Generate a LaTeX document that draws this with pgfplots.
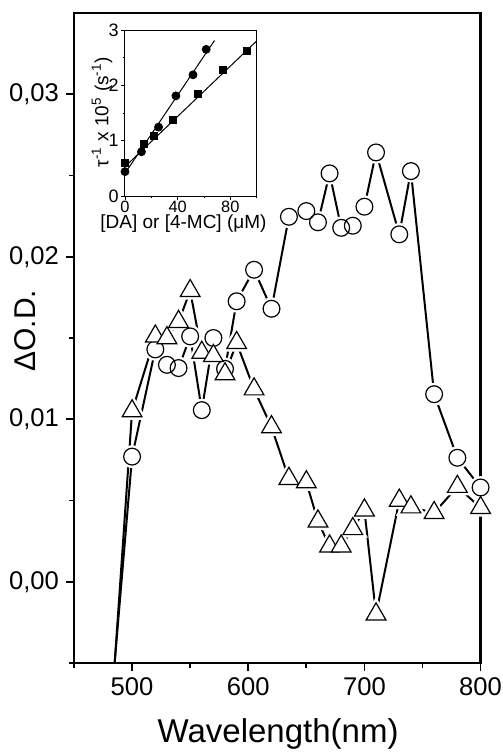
\documentclass[border=0pt]{standalone}
\usepackage{fontspec}
\setmainfont{Liberation Sans}
\usepackage{pgfplots}
\pgfplotsset{compat=1.18}

% transient spectra: circles and triangles
\pgfplotstableread{
x y
480 -0.0092
500 0.0077
520 0.0143
530 0.01335
540 0.01315
550 0.0151
560 0.01056
570 0.0150
580 0.0131
590 0.01726
605 0.0192
620 0.0168
635 0.02246
650 0.02281
660 0.02212
670 0.02513
680 0.02178
690 0.02191
700 0.02308
710 0.02642
730 0.02138
740 0.02527
760 0.01154
780 0.00763
800 0.0058
}\circdata
\pgfplotstableread{
x y
480 -0.0102
500 0.0105
520 0.0151
530 0.0150
540 0.0160
550 0.0179
560 0.0141
570 0.0139
580 0.01278
590 0.0147
605 0.01185
620 0.00952
635 0.00634
650 0.00613
660 0.00372
670 0.00218
680 0.00218
690 0.00325
700 0.0044
710 -0.0020
730 0.0050
740 0.00459
760 0.00424
780 0.00585
800 0.00455
}\tridata

\begin{document}
\begin{tikzpicture}
\begin{axis}[
  name=main,
  scale only axis, width=203.3pt, height=325pt,
  xmin=450, xmax=800, ymin=-0.005, ymax=0.035,
  xtick={500,600,700,800}, minor xtick={450,550,650,750},
  ytick={0,0.01,0.02,0.03}, minor ytick={-0.005,0.005,0.015,0.025},
  tick pos=left, tick align=outside,
  major tick length=4pt, minor tick length=2.5pt,
  axis line style={line width=1.1pt},
  every tick/.style={black, line width=0.9pt},
  scaled y ticks=false,
  /pgf/number format/assume math mode=true,
  yticklabel style={/pgf/number format/.cd, fixed, fixed zerofill, precision=2, use comma},
  tick label style={font=\fontsize{12.8}{14}\selectfont},
  xlabel={Wavelength(nm)}, ylabel={ΔO.D.},
  every axis x label/.style={at={(axis description cs:0.502,-0.109)}, anchor=center,
    font=\fontsize{16.5}{18}\selectfont},
  every axis y label/.style={at={(axis description cs:-0.1205,0.511)}, rotate=90, anchor=center,
    font=\fontsize{15}{18}\selectfont},
]
\addplot[black, line width=1pt] table[x=x,y=y] {\circdata};
\addplot[black, line width=1pt] table[x=x,y=y] {\tridata};
% white halos give the gaps round the symbols
\addplot[only marks, mark=*, mark size=4.2pt, draw=white, fill=white, line width=3pt] table[x=x,y=y] {\circdata};
\addplot[only marks, mark=triangle*, mark size=5.7pt, draw=white, fill=white, line width=3pt] table[x=x,y=y] {\tridata};
\addplot[only marks, mark=o, mark size=4.2pt, mark options={black, fill=white, line width=0.6pt}] table[x=x,y=y] {\circdata};
\addplot[only marks, mark=triangle*, mark size=5.7pt, mark options={black, fill=white, line width=0.6pt}] table[x=x,y=y] {\tridata};
\end{axis}

\begin{axis}[
  at={(25.5pt,233.5pt)}, anchor=south west,
  scale only axis, width=65.8pt, height=83pt,
  xmin=0, xmax=100, ymin=0, ymax=3,
  xtick={0,40,80}, minor xtick={20,60,100},
  ytick={0,1,2,3}, minor ytick={0.5,1.5,2.5},
  tick pos=left, tick align=outside,
  major tick length=2pt, minor tick length=1.2pt,
  axis line style={line width=0.5pt},
  every tick/.style={black, line width=0.4pt},
  /pgf/number format/assume math mode=true,
  xticklabel style={font=\fontsize{8.2}{9}\selectfont, inner sep=0.5pt},
  yticklabel style={font=\fontsize{9}{10}\selectfont, inner sep=1pt},
  xlabel={[DA] or [4-MC] (μM)},
  ylabel={τ\textsuperscript{-1} x 10\textsuperscript{5} (s\textsuperscript{-1})},
  every axis x label/.style={at={(axis description cs:0.444,-0.169)}, anchor=center,
    font=\fontsize{9.5}{11}\selectfont},
  every axis y label/.style={at={(axis description cs:-0.175,0.506)}, rotate=90, anchor=center,
    font=\fontsize{9.5}{11}\selectfont},
]
\addplot[black, line width=0.5pt] coordinates {(0,0.41) (68,2.81)};
\addplot[black, line width=0.5pt] coordinates {(0,0.53) (100,2.80)};
\addplot[only marks, mark=*, mark size=2pt, black] coordinates {
  (0,0.44) (12.5,0.80) (25.5,1.245) (38.7,1.81) (51.7,2.19) (61.7,2.65)};
\addplot[only marks, mark=square*, mark size=1.75pt, black] coordinates {
  (0,0.59) (14.5,0.946) (21.7,1.08) (36.7,1.38) (55.6,1.84) (74.4,2.27) (92.8,2.62)};
\end{axis}

\pgfresetboundingbox
\path[use as bounding box] ([shift={(-37pt,-44.5pt)}]main.south west) rectangle ([shift={(11.2pt,6.5pt)}]main.north east);
\end{tikzpicture}
\end{document}
